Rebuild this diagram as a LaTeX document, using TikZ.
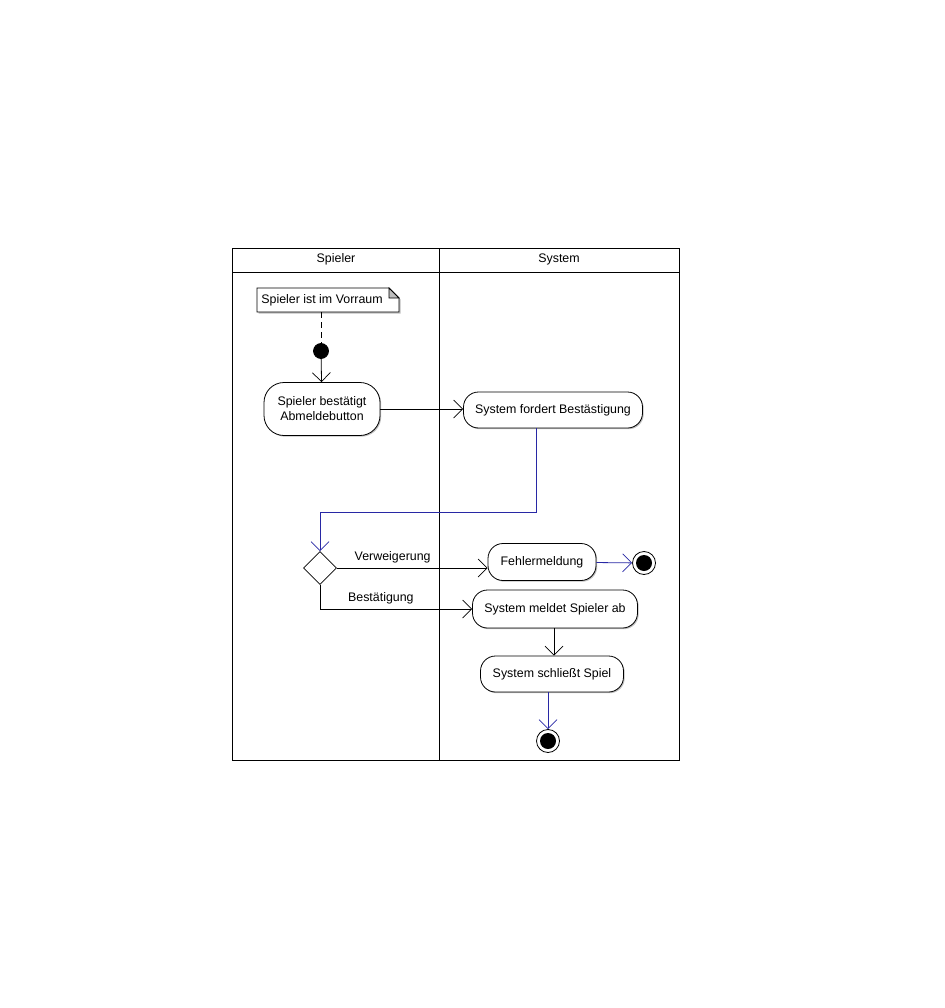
\documentclass[tikz,border=0pt]{standalone}
\usepackage{fontspec}
\setmainfont{Liberation Sans}
\usetikzlibrary{positioning}
\usetikzlibrary{calc}
\usetikzlibrary{shapes.geometric}
\usetikzlibrary{arrows.meta}
\usetikzlibrary{shadows}
\definecolor{flowblue}{RGB}{40,40,165}
\tikzset{
  action/.style={rectangle, rounded corners=15pt, draw, fill=white, inner sep=0pt, align=center,
    drop shadow={shadow xshift=1.2pt, shadow yshift=-1.2pt, fill=black!25, opacity=1}},
  flow/.style={draw, -{Straight Barb[length=9pt,width=18pt,line width=0.7pt]}},
  bflow/.style={flow, flowblue},
  startnode/.style={circle, draw, fill=black, minimum size=15pt, inner sep=0pt},
  endnode/.style={circle, draw, fill=white, minimum size=23pt, inner sep=0pt,
    path picture={\fill [black] (path picture bounding box.center) circle (8pt);}},
  branch/.style={diamond, draw, fill=white, minimum size=33pt, inner sep=0pt, shape aspect=1},
  notepath/.style={insert path={($(noteC)+(-71,12)$) -- ($(noteC)+(-71,-12)$) -- ($(noteC)+(61,-12)$) -- ($(noteC)+(71,-2)$) -- ($(noteC)+(71,12)$) -- cycle}}
}
\begin{document}
\begin{tikzpicture}[x=1pt, y=-1pt, line width=0.8pt, font=\fontsize{12.4}{15}\selectfont]
			\useasboundingbox (0,0) rectangle (944,1008);
			\draw (232,248) rectangle (679,760); \draw (232,272) -- (679,272); \draw (439,248) -- (439,760);
			\node at (336,259) (lane1) {Spieler} ; \node at (559,259) (lane2) {System} ;
			\coordinate (noteC) at (328,300);
			\fill [black!25, transform canvas={shift={(1.5pt,-1.5pt)}}, notepath];
			\filldraw [fill=white, notepath];
			\filldraw [fill=black!25] ($(noteC)+(61,-12)$) -- ($(noteC)+(61,-2)$) -- ($(noteC)+(71,-2)$) -- cycle;
			\node at (328,300) (note) [minimum width=142pt, minimum height=24pt, inner sep=0pt] {\hspace{-12pt}Spieler ist im Vorraum};
			\node at (321,351) (start) [startnode] {} ;
			\draw [dashed, dash pattern=on 6pt off 4pt] (note.south -| start.north) -- (start.north);
			\node at (322,409) (confirm) [action, rounded corners=20pt, minimum width=116pt, minimum height=53pt] {Spieler bestätigt\\Abmeldebutton} ;
			\node at (553,410) (ask) [action, minimum width=179pt, minimum height=36pt] {System fordert Bestästigung} ;
			\node at (320,568) (choice) [branch] {} ;
			\node at (542,562) (error) [action, minimum width=108pt, minimum height=37pt] {Fehlermeldung} ;
			\node at (644,563) (end1) [endnode] {} ;
			\node at (555,609) (logout) [action, minimum width=165pt, minimum height=38pt] {System meldet Spieler ab} ;
			\node at (552,674) (close) [action, minimum width=143pt, minimum height=36pt] {System schließt Spiel} ;
			\node at (548,741) (end2) [endnode] {} ;
			\draw [flow] (start) -- (confirm);
			\draw [flow] (confirm) -- (ask.west |- confirm.east);
			\draw [bflow] (ask.south -| 536,0) |- (320,512) -- (choice.north);
			\draw [flow] (choice.east) -- (error.west |- choice.east) node [pos=0.37, above=1pt] (lbl1) {Verweigerung};
			\draw [flow] (choice.south) |- (logout.west) node [pos=0.7, above=1pt] (lbl2) {Bestätigung};
			\draw [bflow] (error) -- (end1);
			\draw [flow] (logout.south -| 554,0) -- (close.north -| 554,0);
			\draw [bflow] (close.south -| end2) -- (end2);
\end{tikzpicture}
\end{document}
